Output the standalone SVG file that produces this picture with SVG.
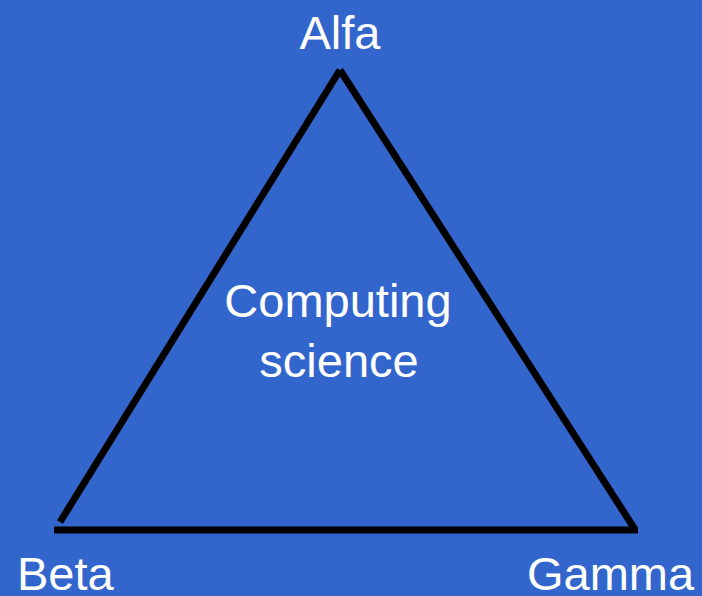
<svg xmlns="http://www.w3.org/2000/svg" width="702" height="596" viewBox="0 0 702 596">
<style>
.t{font-family:"Liberation Sans",Arial,sans-serif;font-size:47px;fill:#ffffff}
.e{stroke:#000000;stroke-width:7;fill:none;stroke-linecap:butt}
</style>
<rect width="702" height="596" fill="#3366CC"/>
<g id="connectors">
<line class="e" x1="60" y1="522" x2="340" y2="70"/>
<line class="e" x1="340" y1="70" x2="634" y2="528"/>
<line class="e" x1="54" y1="530" x2="638" y2="530"/>
</g>
<g id="alfa"><text class="t" x="340" y="49" text-anchor="middle">Alfa</text></g>
<g id="center"><text class="t" x="338" y="317" text-anchor="middle">Computing</text><text class="t" x="339" y="377" text-anchor="middle">science</text></g>
<g id="beta"><text class="t" x="17" y="590">Beta</text></g>
<g id="gamma"><text class="t" x="527" y="590">Gamma</text></g>
</svg>
